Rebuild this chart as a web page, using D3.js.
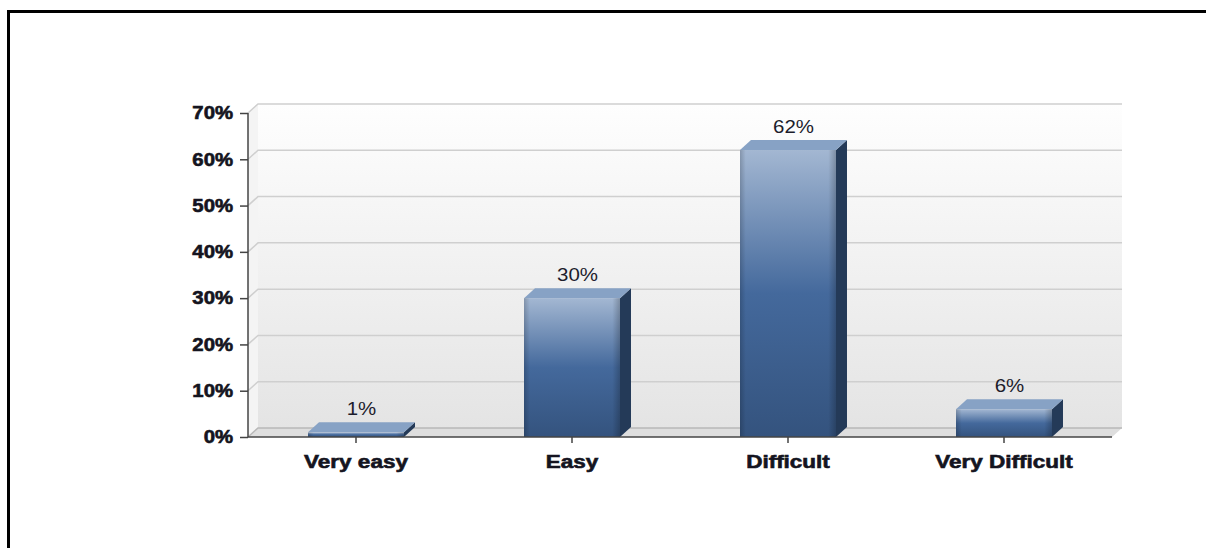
<!DOCTYPE html>
<html>
<head>
<meta charset="utf-8">
<script src="https://cdn.jsdelivr.net/npm/d3@7/dist/d3.min.js"></script>
<style>
  html, body { margin: 0; padding: 0; background: #fff; }
  svg { display: block; }
</style>
</head>
<body>
<div id="chart"></div>
<script>
// Survey responses: how hard was it?
const categories = ["Very easy", "Easy", "Difficult", "Very Difficult"];
const values = [1, 30, 62, 6];
const yTicks = [0, 10, 20, 30, 40, 50, 60, 70];

const W = 1206, H = 548;
const FONT = "Liberation Sans, Arial, sans-serif";
const svg = d3.select("#chart").append("svg")
  .attr("width", W).attr("height", H);

const defs = svg.append("defs");

// back wall gradient
const wallGrad = defs.append("linearGradient").attr("id", "wallGrad")
  .attr("x1", 0).attr("y1", 0).attr("x2", 0).attr("y2", 1);
wallGrad.append("stop").attr("offset", "0%").attr("stop-color", "#fefefe");
wallGrad.append("stop").attr("offset", "100%").attr("stop-color", "#e4e4e4");

// bar front face gradient
const frontGrad = defs.append("linearGradient").attr("id", "frontGrad")
  .attr("x1", 0).attr("y1", 0).attr("x2", 0).attr("y2", 1);
frontGrad.append("stop").attr("offset", "0%").attr("stop-color", "#a3b7d2");
frontGrad.append("stop").attr("offset", "50%").attr("stop-color", "#44699c");
frontGrad.append("stop").attr("offset", "100%").attr("stop-color", "#34537e");

// bevel shading across the front face
const bevelGrad = defs.append("linearGradient").attr("id", "bevelGrad")
  .attr("x1", 0).attr("y1", 0).attr("x2", 1).attr("y2", 0);
bevelGrad.append("stop").attr("offset", "0%").attr("stop-color", "#000").attr("stop-opacity", 0.18);
bevelGrad.append("stop").attr("offset", "6%").attr("stop-color", "#000").attr("stop-opacity", 0);
bevelGrad.append("stop").attr("offset", "92%").attr("stop-color", "#000").attr("stop-opacity", 0);
bevelGrad.append("stop").attr("offset", "100%").attr("stop-color", "#000").attr("stop-opacity", 0.22);

// outer frame
svg.append("rect")
  .attr("x", 8.5).attr("y", 11.5)
  .attr("width", W + 20).attr("height", H + 20)
  .attr("fill", "none").attr("stroke", "#000").attr("stroke-width", 3);

const x0 = 248, x1 = 1112;
const wallDx = 10, wallDy = 9;
const barDx = 11, barDy = 10;

const x = d3.scaleBand().domain(categories).range([x0, x1])
  .paddingInner(0.5556).paddingOuter(0.2778);
const y = d3.scaleLinear().domain([0, 70]).range([437, 113]);

const yTop = y(70), yBase = y(0);

// back wall
svg.append("rect")
  .attr("x", x0 + wallDx).attr("y", yTop - wallDy)
  .attr("width", x1 - x0).attr("height", yBase - yTop)
  .attr("fill", "url(#wallGrad)");

// left side wall
svg.append("path")
  .attr("d", `M${x0},${yTop} L${x0 + wallDx},${yTop - wallDy} L${x0 + wallDx},${yBase - wallDy} L${x0},${yBase} Z`)
  .attr("fill", "#f4f4f4");

// floor
svg.append("path")
  .attr("d", `M${x0},${yBase} L${x0 + wallDx},${yBase - wallDy} L${x1 + wallDx},${yBase - wallDy} L${x1},${yBase} Z`)
  .attr("fill", "#dedede");

// gridlines with their diagonal on the side wall
const grid = svg.append("g");
yTicks.forEach(t => {
  const yy = y(t);
  grid.append("path")
    .attr("d", `M${x0},${yy} L${x0 + wallDx},${yy - wallDy} L${x1 + wallDx},${yy - wallDy}`)
    .attr("fill", "none")
    .attr("stroke", t === 0 ? "#b8b8b8" : "#cfcfcf")
    .attr("stroke-width", 1.5);
});

// bars
const bars = svg.append("g").selectAll("g").data(categories).join("g");
bars.each(function (c, i) {
  const g = d3.select(this);
  const v = values[i];
  const bx = x(c), bw = x.bandwidth();
  const by = y(v), bb = y(0);
  // side face
  g.append("path")
    .attr("d", `M${bx + bw},${by} L${bx + bw + barDx},${by - barDy} L${bx + bw + barDx},${bb - barDy} L${bx + bw},${bb} Z`)
    .attr("fill", "#243a58");
  // top face
  g.append("path")
    .attr("d", `M${bx},${by} L${bx + barDx},${by - barDy} L${bx + bw + barDx},${by - barDy} L${bx + bw},${by} Z`)
    .attr("fill", "#87a2c5");
  // front face
  g.append("rect")
    .attr("x", bx).attr("y", by).attr("width", bw).attr("height", Math.max(bb - by, 0.5))
    .attr("fill", "url(#frontGrad)");
  g.append("rect")
    .attr("x", bx).attr("y", by).attr("width", bw).attr("height", Math.max(bb - by, 0.5))
    .attr("fill", "url(#bevelGrad)");
  // value label
  g.append("text")
    .attr("transform", `translate(${bx + bw / 2 + barDx / 2},${by - barDy - 7}) scale(1.17,1)`)
    .attr("text-anchor", "middle")
    .attr("font-family", FONT)
    .attr("font-size", 17.5)
    .attr("fill", "#1c1c2c")
    .text(v + "%");
});

// y axis
const ySX = 1.13;
const yAxis = d3.axisLeft(y).tickValues(yTicks).tickFormat(d => d + "%")
  .tickSize(8).tickPadding(7);
const ya = svg.append("g").attr("transform", `translate(${x0},0)`).call(yAxis);
ya.select(".domain").attr("stroke", "#444").attr("stroke-width", 1.5)
  .attr("d", `M0,${yTop}H0V${yBase}H0`);
ya.selectAll(".tick line").attr("stroke", "#444").attr("stroke-width", 1.5);
ya.selectAll(".tick text")
  .attr("x", -15 / ySX)
  .attr("transform", `scale(${ySX},1)`)
  .attr("font-family", FONT)
  .attr("font-size", 18).attr("font-weight", "bold").attr("fill", "#141420")
  .attr("stroke", "#141420").attr("stroke-width", 0.6);

// x axis
const xSX = 1.25;
const xAxis = d3.axisBottom(x).tickSize(6).tickPadding(12);
const xa = svg.append("g").attr("transform", `translate(0,${yBase})`).call(xAxis);
xa.select(".domain").attr("stroke", "#444").attr("stroke-width", 1.5)
  .attr("d", `M${x0},0H${x1}`);
xa.selectAll(".tick line").attr("stroke", "#444").attr("stroke-width", 1.5);
xa.selectAll(".tick text")
  .attr("transform", `scale(${xSX},1)`)
  .attr("font-family", FONT)
  .attr("font-size", 18).attr("font-weight", "bold").attr("fill", "#141420")
  .attr("stroke", "#141420").attr("stroke-width", 0.6);
</script>
</body>
</html>
